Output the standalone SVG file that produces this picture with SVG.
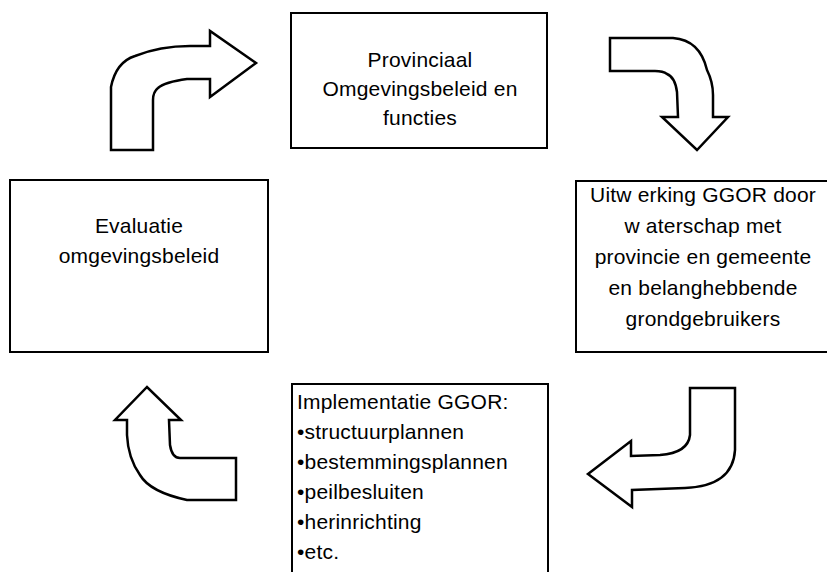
<svg xmlns="http://www.w3.org/2000/svg" width="827" height="572" viewBox="0 0 827 572">
<style>
.box{fill:#fff;stroke:#000;stroke-width:2}
.arr{fill:#fff;stroke:#000;stroke-width:2.5;stroke-linejoin:miter}
.t{font-family:"Liberation Sans",Arial,sans-serif;font-size:21px;letter-spacing:0.2px;fill:#000}
.c{text-anchor:middle}
</style>
<rect width="827" height="572" fill="#fff"/>
<g id="node-provinciaal">
<rect class="box" x="291" y="13" width="256" height="135"/>
<text class="t c" x="420" y="67">Provinciaal</text>
<text class="t c" x="420" y="96">Omgevingsbeleid en</text>
<text class="t c" x="420" y="125">functies</text>
</g>
<g id="node-uitwerking">
<rect class="box" x="576" y="181" width="260" height="171"/>
<text class="t c" x="703" y="202">Uitw erking GGOR door</text>
<text class="t c" x="703" y="233">w aterschap met</text>
<text class="t c" x="703" y="264">provincie en gemeente</text>
<text class="t c" x="703" y="295">en belanghebbende</text>
<text class="t c" x="703" y="326">grondgebruikers</text>
</g>
<g id="node-implementatie">
<rect class="box" x="292" y="384" width="256" height="200"/>
<text class="t" x="297" y="409">Implementatie GGOR:</text>
<text class="t" x="297" y="439">•structuurplannen</text>
<text class="t" x="297" y="469">•bestemmingsplannen</text>
<text class="t" x="297" y="499">•peilbesluiten</text>
<text class="t" x="297" y="529">•herinrichting</text>
<text class="t" x="297" y="559">•etc.</text>
</g>
<g id="node-evaluatie">
<rect class="box" x="10" y="180" width="258" height="172"/>
<text class="t c" x="139" y="233">Evaluatie</text>
<text class="t c" x="139" y="263">omgevingsbeleid</text>
</g>
<g id="connectors">
<path class="arr" d="M111,150 L111,87 Q116,62 135,56 Q160,46 190,46 L210,46 L210,31 L256,63 L210,97 L210,79 L187,79 Q165,82 158,88 Q153,92 153,100 L153,150 Z"/>
<path class="arr" d="M610,38 L673,38 Q700,40 707,70 Q713,82 713,95 L713,117 L728,117 L697,150 L662,117 L678,117 L677,92 Q675,77 667,74 Q663,71 655,71 L610,71 Z"/>
<path class="arr" d="M690,388 L735,388 L735,450 Q733,486 685,488 L632,490 L632,507 L588,474 L631,441 L631,456 L660,455 Q688,453 690,435 Z"/>
<path class="arr" d="M236,458 L236,500 L187,500 Q150,492 140,475 Q128,458 127,435 L127,420 L115,420 L147,387 L181,420 L169,420 L170,445 Q172,458 180,458 Z"/>
</g>
</svg>
